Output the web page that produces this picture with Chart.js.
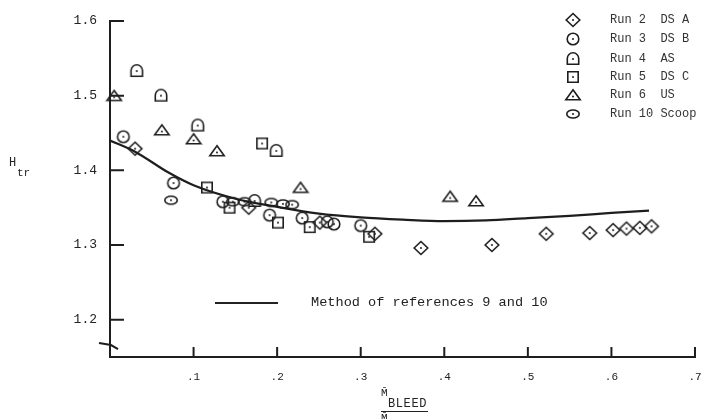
<!DOCTYPE html>
<html>
<head>
<meta charset="utf-8">
<script src="https://cdn.jsdelivr.net/npm/chart.js@4.4.1/dist/chart.umd.min.js"></script>
<style>
  html, body { margin: 0; padding: 0; background: #fff; }
  #wrap { position: relative; width: 706px; height: 419px; overflow: hidden; font-family: "Liberation Mono", "DejaVu Sans Mono", monospace; color: #222; }
  #chart { position: absolute; left: 0; top: 0; }
  .lg-row { position: absolute; left: 564px; height: 18px; display: flex; align-items: center; font-size: 12px; white-space: pre; color: #333; }
  .lg-row canvas { margin-right: 28px; }
  .abs { position: absolute; white-space: pre; line-height: 1; }
</style>
</head>
<body>
<div id="wrap">
  <canvas id="chart" width="706" height="419"></canvas>
  <div id="legend"></div>

  <!-- curve legend -->
  <div class="abs" style="left:215px; top:302px; width:63px; height:0; border-top:2px solid #222;"></div>
  <div class="abs" style="left:311px; top:296px; font-size:13.6px;">Method of references 9 and 10</div>

  <!-- y title -->
  <div class="abs" style="left:9px; top:157px; font-size:12px;">H</div>
  <div class="abs" style="left:17px; top:168px; font-size:11px;">tr</div>

  <!-- x title -->
  <div class="abs" style="left:381px; top:388px; font-size:11px;">M&#772;</div>
  <div class="abs" style="left:388px; top:398px; font-size:12px; letter-spacing:0.6px;">BLEED</div>
  <div class="abs" style="left:381px; top:411px; width:47px; height:0; border-top:1.5px solid #222;"></div>
  <div class="abs" style="left:381px; top:413px; font-size:11px;">M&#772;</div>
</div>
<script>
const INK = '#1e1e1e';

// tick labels
const xTicks = [0.1, 0.2, 0.3, 0.4, 0.5, 0.6, 0.7];
const yTicks = [1.2, 1.3, 1.4, 1.5, 1.6];

// Run 2  DS A (diamond)
const run2X = [0.030, 0.166, 0.251, 0.317, 0.372, 0.457, 0.522, 0.574, 0.602, 0.618, 0.634, 0.648];
const run2Y = [1.429, 1.350, 1.330, 1.315, 1.296, 1.300, 1.315, 1.316, 1.320, 1.322, 1.323, 1.325];

// Run 3  DS B (circle)
const run3X = [0.016, 0.076, 0.135, 0.191, 0.230, 0.260, 0.268, 0.300];
const run3Y = [1.445, 1.383, 1.358, 1.340, 1.336, 1.331, 1.328, 1.326];

// Run 4  AS (arch)
const run4X = [0.032, 0.061, 0.105, 0.199, 0.173];
const run4Y = [1.533, 1.500, 1.460, 1.426, 1.359];

// Run 5  DS C (square)
const run5X = [0.116, 0.143, 0.182, 0.201, 0.239, 0.310];
const run5Y = [1.377, 1.350, 1.436, 1.330, 1.324, 1.311];

// Run 6  US (triangle)
const run6X = [0.005, 0.062, 0.100, 0.128, 0.228, 0.407, 0.438];
const run6Y = [1.500, 1.454, 1.442, 1.426, 1.377, 1.365, 1.359];

// Run 10  Scoop (flat oval)
const run10X = [0.073, 0.147, 0.161, 0.193, 0.207, 0.218];
const run10Y = [1.360, 1.358, 1.358, 1.357, 1.355, 1.354];

// Method of references 9 and 10
const curveX = [0, 0.03, 0.07, 0.10, 0.15, 0.20, 0.25, 0.30, 0.35, 0.40, 0.45, 0.50, 0.55, 0.60, 0.645];
const curveY = [1.440, 1.425, 1.397, 1.380, 1.362, 1.351, 1.342, 1.337, 1.334, 1.332, 1.333, 1.336, 1.339, 1.343, 1.346];

function makeMarker(kind) {
  const c = document.createElement('canvas');
  c.width = 18; c.height = 18;
  const g = c.getContext('2d');
  g.strokeStyle = INK; g.fillStyle = INK; g.lineWidth = 1.6;
  g.beginPath();
  if (kind === 'diamond') {
    g.moveTo(9, 2.5); g.lineTo(15.8, 9); g.lineTo(9, 15.5); g.lineTo(2.2, 9); g.closePath();
  } else if (kind === 'circle') {
    g.arc(9, 9, 5.8, 0, Math.PI * 2);
  } else if (kind === 'arch') {
    g.moveTo(3.3, 14.3); g.lineTo(3.3, 8.5); g.arc(9, 8.5, 5.7, Math.PI, 0); g.lineTo(14.7, 14.3); g.closePath();
  } else if (kind === 'square') {
    g.rect(3.8, 3.8, 10.4, 10.4);
  } else if (kind === 'triangle') {
    g.moveTo(9, 3.8); g.lineTo(16.2, 13.8); g.lineTo(1.8, 13.8); g.closePath();
  } else if (kind === 'oval') {
    g.ellipse(9, 9, 6.2, 4, 0, 0, Math.PI * 2);
  }
  g.stroke();
  g.beginPath();
  g.arc(9, kind === 'triangle' ? 10.5 : 9, 1, 0, Math.PI * 2);
  g.fill();
  return c;
}

const runs = [
  { label: 'Run 2  DS A', kind: 'diamond', xs: run2X, ys: run2Y },
  { label: 'Run 3  DS B', kind: 'circle', xs: run3X, ys: run3Y },
  { label: 'Run 4  AS', kind: 'arch', xs: run4X, ys: run4Y },
  { label: 'Run 5  DS C', kind: 'square', xs: run5X, ys: run5Y },
  { label: 'Run 6  US', kind: 'triangle', xs: run6X, ys: run6Y },
  { label: 'Run 10 Scoop', kind: 'oval', xs: run10X, ys: run10Y },
];

// legend (top right)
const legendTops = [11, 30, 50, 68, 86, 105];
const legend = document.getElementById('legend');
runs.forEach((r, i) => {
  const row = document.createElement('div');
  row.className = 'lg-row';
  row.style.top = legendTops[i] + 'px';
  row.appendChild(makeMarker(r.kind));
  const t = document.createElement('span');
  t.textContent = r.label;
  row.appendChild(t);
  legend.appendChild(row);
});

const datasets = runs.map(r => ({
  label: r.label,
  data: r.xs.map((x, i) => ({ x, y: r.ys[i] })),
  pointStyle: makeMarker(r.kind),
  pointRadius: 6,
  showLine: false,
  clip: false,
  order: 1,
}));

datasets.push({
  label: 'Method of references 9 and 10',
  data: curveX.map((x, i) => ({ x, y: curveY[i] })),
  showLine: true,
  borderColor: INK,
  borderWidth: 2.2,
  pointRadius: 0,
  cubicInterpolationMode: 'monotone',
  order: 2,
});

// inward tick marks and the axis break
const innerTicks = {
  id: 'innerTicks',
  afterDraw(chart) {
    const { ctx, scales: { x, y } } = chart;
    ctx.save();
    ctx.strokeStyle = INK;
    ctx.lineWidth = 2;
    ctx.beginPath();
    xTicks.forEach(v => {
      const px = x.getPixelForValue(v);
      ctx.moveTo(px, x.top); ctx.lineTo(px, x.top - 10);
    });
    yTicks.forEach(v => {
      const py = y.getPixelForValue(v);
      ctx.moveTo(y.right, py); ctx.lineTo(y.right + 14, py);
    });
    ctx.stroke();
    const by = y.getPixelForValue(1.166);
    ctx.beginPath();
    ctx.moveTo(y.right - 11, by - 2);
    ctx.lineTo(y.right + 1, by);
    ctx.lineTo(y.right + 8, by + 4);
    ctx.stroke();
    ctx.restore();
  }
};

new Chart(document.getElementById('chart'), {
  type: 'scatter',
  data: { datasets },
  plugins: [innerTicks],
  options: {
    responsive: false,
    animation: false,
    layout: { padding: { top: 21, right: 11, left: 0, bottom: 0 } },
    plugins: { legend: { display: false }, tooltip: { enabled: false } },
    scales: {
      x: {
        type: 'linear', min: 0, max: 0.7,
        afterFit: s => { s.height = 62; s.paddingLeft = 0; s.paddingRight = 0; },
        afterBuildTicks: s => { s.ticks = xTicks.map(v => ({ value: v })); },
        grid: { display: false, drawTicks: false },
        border: { display: true, color: INK, width: 2 },
        ticks: {
          color: '#222', padding: 13,
          font: { family: '"Liberation Mono", monospace', size: 11 },
          callback: v => '.' + Math.round(v * 10),
        },
      },
      y: {
        type: 'linear', min: 1.15, max: 1.6,
        afterFit: s => { s.width = 110; s.paddingTop = 0; s.paddingBottom = 0; },
        afterBuildTicks: s => { s.ticks = yTicks.map(v => ({ value: v })); },
        grid: { display: false, drawTicks: false },
        border: { display: true, color: INK, width: 2 },
        ticks: {
          color: '#222', padding: 13,
          font: { family: '"Liberation Mono", monospace', size: 13 },
          callback: v => v.toFixed(1),
        },
      },
    },
  },
});
</script>
</body>
</html>
